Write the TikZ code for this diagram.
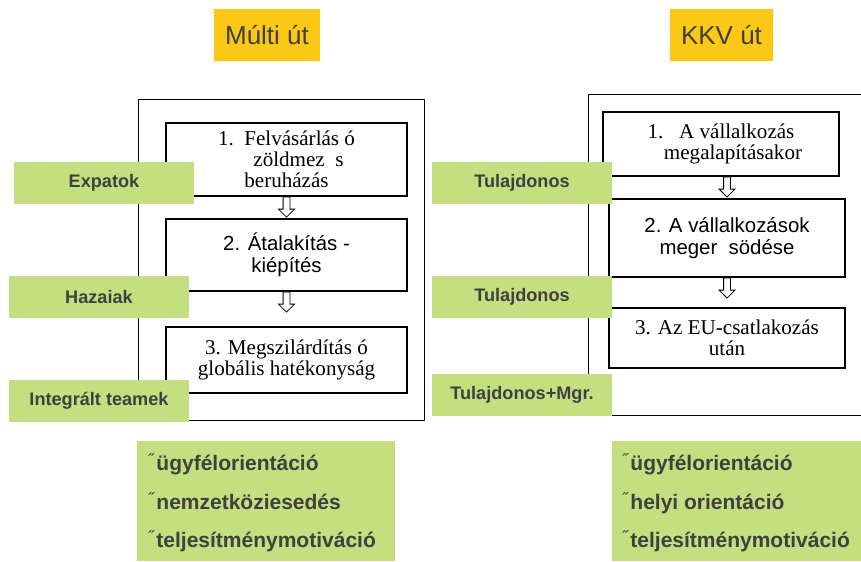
\documentclass[tikz,border=0pt]{standalone}
\usepackage{fontspec}
\setmainfont{Liberation Sans}
\newfontfamily\boxserif{Liberation Serif}
\usetikzlibrary{shapes.arrows}

\definecolor{pathyellow}{RGB}{252,200,22}
\definecolor{rolegreen}{RGB}{195,223,128}
\definecolor{inkgray}{RGB}{64,64,64}

% kis jel a felsorolas elott
\newcommand{\listmark}{{\mdseries\fontsize{13}{13}\selectfont\color{inkgray}\raisebox{3pt}{˝}}\hspace{2pt}}

\begin{document}
\begin{tikzpicture}[
    x=0.75pt, y=-0.75pt,
    title box/.style={fill=pathyellow,text=inkgray,inner sep=0pt,minimum height=39pt,
        font=\fontsize{19.5}{23}\selectfont},
    frame/.style={draw=black,line width=0.75pt,inner sep=0pt},
    step serif/.style={draw=black,line width=1pt,inner sep=0pt,align=center,
        font=\boxserif\fontsize{15.8}{15.75}\selectfont},
    step sans/.style={draw=black,line width=1pt,inner sep=0pt,align=center,
        font=\fontsize{15.3}{16.5}\selectfont},
    role box/.style={fill=rolegreen,text=inkgray,inner sep=0pt,
        minimum width=135pt,minimum height=31.5pt,font=\bfseries\fontsize{13.6}{16}\selectfont},
    list box/.style={fill=rolegreen,inner sep=0pt,minimum height=90pt},
    list text/.style={text=inkgray,anchor=west,align=left,inner sep=0pt,
        font=\bfseries\fontsize{15.75}{28.9}\selectfont},
    down arrow/.style={single arrow,draw=black,fill=white,line width=0.6pt,
        shape border rotate=270,minimum height=15pt,inner sep=2.25pt,
        single arrow head extend=3.4pt,single arrow head indent=0pt,anchor=tail}
]
\useasboundingbox (0,0) rectangle (861,561);

% Multi ut (bal oldal)
\node[frame,minimum width=214.5pt,minimum height=240.75pt] (multiframe) at (281,259.5) {};
\node[step serif,minimum width=180.75pt,minimum height=54.75pt] (m1) at (286.5,159.5)
    {1.\ \ Felvásárlás ó\\ \hspace{18pt}zöldmez\ \ s\\ beruházás};
\node[step sans,minimum width=180.75pt,minimum height=54pt] (m2) at (286.5,255)
    {2. Átalakítás -\\ kiépítés};
\node[step serif,minimum width=180.75pt,minimum height=49.5pt] (m3) at (286.5,360)
    {3. Megszilárdítás ó\\ globális hatékonyság};

\node[down arrow] (ma1) at (m1.south) {};
\node[down arrow] (ma2) at (m2.south) {};

\node[role box] (expatok) at (104,183) {Expatok};
\node[role box] (hazaiak) at (99,297) {Hazaiak};
\node[role box] (integralt) at (99,401) {Integrált teamek};

% KKV ut (jobb oldal)
\draw[line width=0.75pt] (861,94) -| (588,415) -- (861,415);
\node[step serif,minimum width=177pt,minimum height=48pt] (k1) at (721,144)
    {1.\ \ \ A vállalkozás\\ \hspace{18pt}megalapításakor};
\node[step sans,minimum width=177pt,minimum height=58.5pt] (k2) at (727,238)
    {2. A vállalkozások\\ meger\ \ södése};
\node[step serif,minimum width=177pt,minimum height=45pt] (k3) at (727,338)
    {3. Az EU-csatlakozás\\ után};

\node[down arrow] (ka1) at (k1.south -| k2.north) {};
\node[down arrow] (ka2) at (k2.south) {};

\node[role box] (tul1) at (522,183) {Tulajdonos};
\node[role box] (tul2) at (522,297) {Tulajdonos};
\node[role box] (tulmgr) at (522,395) {Tulajdonos+Mgr.};

% Kompetenciak
\node[list box,minimum width=193.5pt] (multilist) at (266,501) {};
\node[list text] (multitext) at ([xshift=8.25pt,yshift=-1.5pt]multilist.west)
    {\listmark ügyfélorientáció\\ \listmark nemzetköziesedés\\ \listmark teljesítménymotiváció};
\node[list box,minimum width=186.75pt] (kkvlist) at (736.5,501) {};
\node[list text] (kkvtext) at ([xshift=7.5pt,yshift=-1.5pt]kkvlist.west)
    {\listmark ügyfélorientáció\\ \listmark helyi orientáció\\ \listmark teljesítménymotiváció};

% Cimek
\node[title box,minimum width=79.5pt] (multititle) at (267,35) {Múlti út};
\node[title box,minimum width=77.25pt] (kkvtitle) at (721.5,35) {KKV út};

\end{tikzpicture}
\end{document}
